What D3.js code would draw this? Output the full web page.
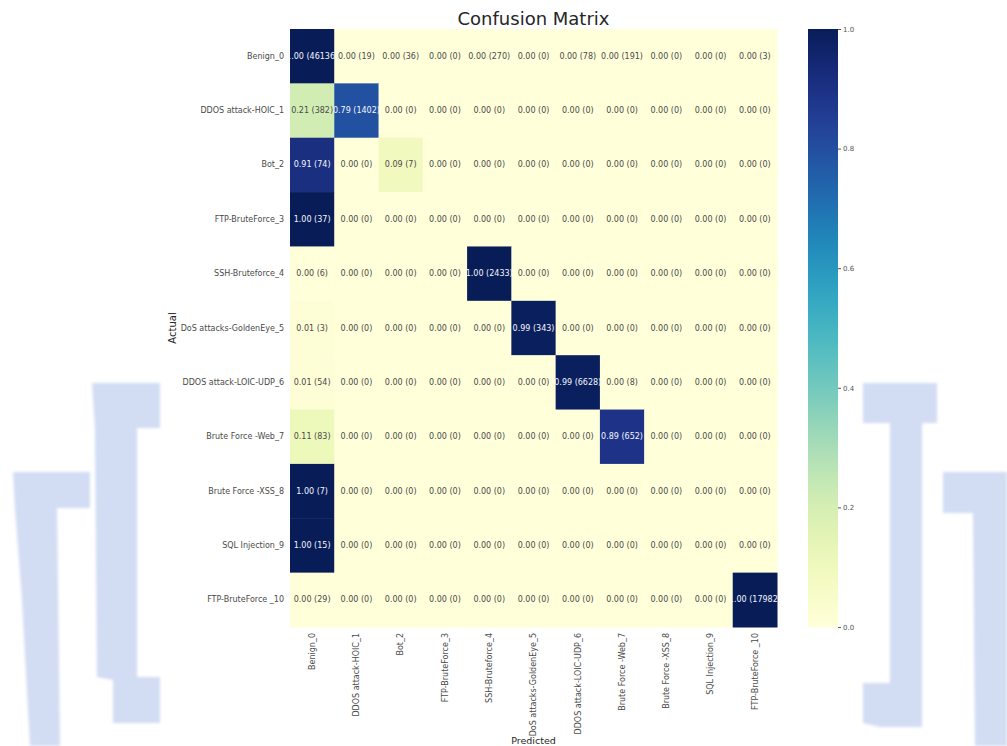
<!DOCTYPE html>
<html>
<head>
<meta charset="utf-8">
<script src="https://cdn.jsdelivr.net/npm/d3@7"></script>
<style>
  html, body { margin: 0; padding: 0; background: #ffffff; }
  svg { display: block; font-family: "DejaVu Sans", sans-serif; }
</style>
</head>
<body>
<svg id="chart" width="1007" height="746"></svg>
<script>
// Class labels (rows = actual, columns = predicted)
const classLabels = [
  "Benign_0", "DDOS attack-HOIC_1", "Bot_2", "FTP-BruteForce_3", "SSH-Bruteforce_4",
  "DoS attacks-GoldenEye_5", "DDOS attack-LOIC-UDP_6", "Brute Force -Web_7",
  "Brute Force -XSS_8", "SQL Injection_9", "FTP-BruteForce _10"
];

// Row-normalised rates shown in each cell
const rates = [
  [1.00, 0.00, 0.00, 0.00, 0.00, 0.00, 0.00, 0.00, 0.00, 0.00, 0.00],
  [0.21, 0.79, 0.00, 0.00, 0.00, 0.00, 0.00, 0.00, 0.00, 0.00, 0.00],
  [0.91, 0.00, 0.09, 0.00, 0.00, 0.00, 0.00, 0.00, 0.00, 0.00, 0.00],
  [1.00, 0.00, 0.00, 0.00, 0.00, 0.00, 0.00, 0.00, 0.00, 0.00, 0.00],
  [0.00, 0.00, 0.00, 0.00, 1.00, 0.00, 0.00, 0.00, 0.00, 0.00, 0.00],
  [0.01, 0.00, 0.00, 0.00, 0.00, 0.99, 0.00, 0.00, 0.00, 0.00, 0.00],
  [0.01, 0.00, 0.00, 0.00, 0.00, 0.00, 0.99, 0.00, 0.00, 0.00, 0.00],
  [0.11, 0.00, 0.00, 0.00, 0.00, 0.00, 0.00, 0.89, 0.00, 0.00, 0.00],
  [1.00, 0.00, 0.00, 0.00, 0.00, 0.00, 0.00, 0.00, 0.00, 0.00, 0.00],
  [1.00, 0.00, 0.00, 0.00, 0.00, 0.00, 0.00, 0.00, 0.00, 0.00, 0.00],
  [0.00, 0.00, 0.00, 0.00, 0.00, 0.00, 0.00, 0.00, 0.00, 0.00, 1.00]
];

// Raw sample counts shown in brackets
const counts = [
  [46136, 19, 36, 0, 270, 0, 78, 191, 0, 0, 3],
  [382, 1402, 0, 0, 0, 0, 0, 0, 0, 0, 0],
  [74, 0, 7, 0, 0, 0, 0, 0, 0, 0, 0],
  [37, 0, 0, 0, 0, 0, 0, 0, 0, 0, 0],
  [6, 0, 0, 0, 2433, 0, 0, 0, 0, 0, 0],
  [3, 0, 0, 0, 0, 343, 0, 0, 0, 0, 0],
  [54, 0, 0, 0, 0, 0, 6628, 8, 0, 0, 0],
  [83, 0, 0, 0, 0, 0, 0, 652, 0, 0, 0],
  [7, 0, 0, 0, 0, 0, 0, 0, 0, 0, 0],
  [15, 0, 0, 0, 0, 0, 0, 0, 0, 0, 0],
  [29, 0, 0, 0, 0, 0, 0, 0, 0, 0, 17982]
];

// Colour bar ticks
const colorbarTicks = [0.0, 0.2, 0.4, 0.6, 0.8, 1.0];

const svg = d3.select("#chart");

// ---- Decorative page background shapes ----
const shapes = [
  [[92,383],[160,383],[160,428],[137,428],[137,677],[160,677],[160,723],[113,723],[113,680],[97,677],[95,428]],
  [[13,472],[90,472],[90,508],[57,508],[60,746],[30,746],[22,600],[15,508]],
  [[863,383],[937,383],[937,423],[922,423],[922,727],[880,727],[863,723],[863,683],[890,683],[890,423],[863,423]],
  [[943,472],[1007,472],[1007,746],[975,746],[973,513],[943,513]]
];
const defs = svg.append("defs");
defs.append("filter").attr("id", "soft")
  .append("feGaussianBlur").attr("stdDeviation", 1.5);
svg.append("g").attr("filter", "url(#soft)")
  .selectAll("path").data(shapes).join("path")
  .attr("d", d => "M" + d.join("L") + "Z")
  .attr("fill", "#d2dcf3");

// ---- Heatmap ----
const x = d3.scaleBand().domain(classLabels).range([290, 777]);
const y = d3.scaleBand().domain(classLabels).range([29, 627]);
const color = d3.scaleSequential(d3.interpolateYlGnBu).domain([0, 1]);

const cells = [];
rates.forEach((row, i) => row.forEach((v, j) => cells.push({
  r: classLabels[i], c: classLabels[j], v: v, n: counts[i][j]
})));

const grid = svg.append("g");
grid.selectAll("rect").data(cells).join("rect")
  .attr("x", d => x(d.c))
  .attr("y", d => y(d.r))
  .attr("width", x.bandwidth() + 0.5)
  .attr("height", y.bandwidth() + 0.5)
  .attr("fill", d => color(d.v));

grid.selectAll("text").data(cells).join("text")
  .attr("x", d => x(d.c) + x.bandwidth() / 2)
  .attr("y", d => y(d.r) + y.bandwidth() / 2)
  .attr("text-anchor", "middle")
  .attr("dominant-baseline", "central")
  .attr("font-size", 8)
  .attr("fill", d => d.v > 0.5 ? "#f4f6ff" : "#4a4a4a")
  .text(d => d.v.toFixed(2) + " (" + d.n + ")");

// Y axis (actual)
const yAxis = svg.append("g")
  .attr("transform", "translate(290,0)")
  .call(d3.axisLeft(y).tickSize(0).tickPadding(6));
yAxis.select(".domain").remove();
yAxis.selectAll("text").attr("font-size", 8).attr("fill", "#4a4a4a")
  .attr("font-family", "DejaVu Sans, sans-serif");

// X axis (predicted)
const xAxis = svg.append("g")
  .attr("transform", "translate(0,627)")
  .call(d3.axisBottom(x).tickSize(0));
xAxis.select(".domain").remove();
xAxis.selectAll("text")
  .attr("font-size", 8).attr("fill", "#4a4a4a")
  .attr("font-family", "DejaVu Sans, sans-serif")
  .attr("transform", "rotate(-90)")
  .attr("text-anchor", "end")
  .attr("x", -6)
  .attr("y", 0)
  .attr("dy", "0.35em");

// Axis titles
svg.append("text")
  .attr("x", 533.5).attr("y", 25)
  .attr("text-anchor", "middle")
  .attr("font-size", 18).attr("fill", "#262626")
  .text("Confusion Matrix");

svg.append("text")
  .attr("transform", "translate(176,328) rotate(-90)")
  .attr("text-anchor", "middle")
  .attr("font-size", 10).attr("fill", "#262626")
  .text("Actual");

svg.append("text")
  .attr("x", 533.5).attr("y", 744)
  .attr("text-anchor", "middle")
  .attr("font-size", 9.5).attr("fill", "#262626")
  .text("Predicted");

// ---- Colour bar ----
const cbScale = d3.scaleLinear().domain([0, 1]).range([627, 29]);
const grad = defs.append("linearGradient").attr("id", "cbgrad")
  .attr("x1", 0).attr("y1", 1).attr("x2", 0).attr("y2", 0);
d3.range(0, 1.0001, 0.05).forEach(t => {
  grad.append("stop").attr("offset", t).attr("stop-color", color(t));
});
svg.append("rect")
  .attr("x", 808).attr("y", cbScale(1))
  .attr("width", 30).attr("height", cbScale(0) - cbScale(1))
  .attr("fill", "url(#cbgrad)");

const cbAxis = svg.append("g")
  .attr("transform", "translate(838,0)")
  .call(d3.axisRight(cbScale).tickValues(colorbarTicks).tickFormat(d3.format(".1f")).tickSize(3).tickPadding(2));
cbAxis.select(".domain").remove();
cbAxis.selectAll("line").attr("stroke", "#555");
cbAxis.selectAll("text").attr("font-size", 7).attr("fill", "#555")
  .attr("font-family", "DejaVu Sans, sans-serif");
</script>
</body>
</html>
